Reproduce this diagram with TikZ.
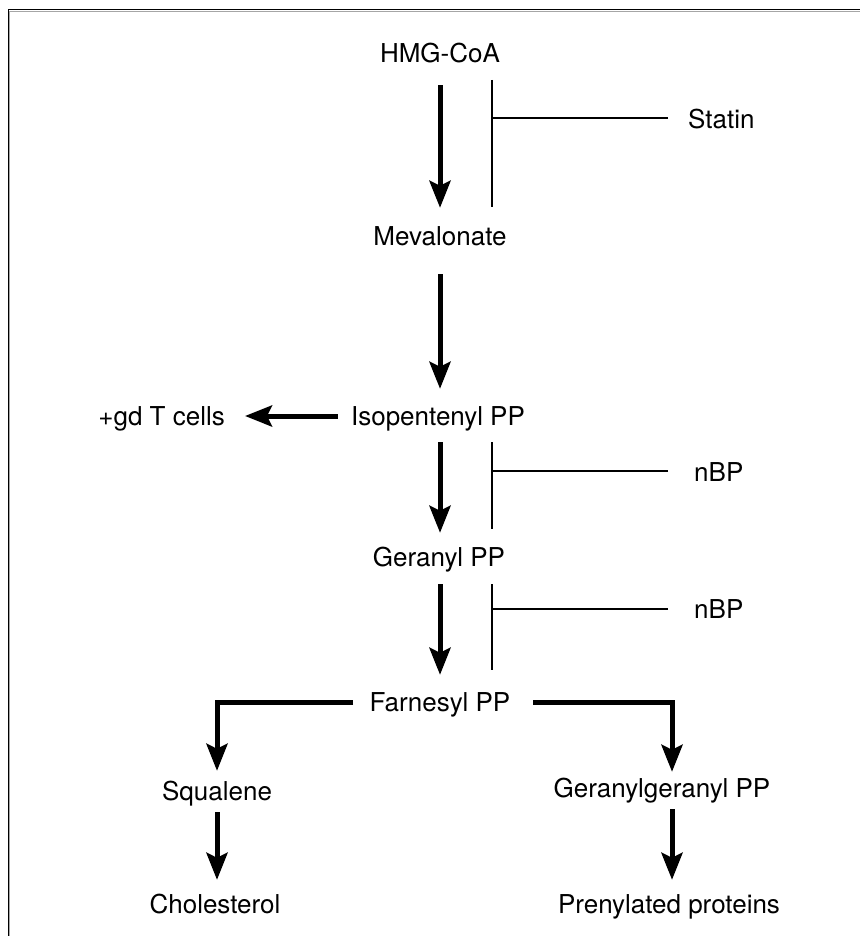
\documentclass[tikz,border=0pt]{standalone}
\usepackage{fontspec}
\setmainfont{TeX Gyre Heros}
\usetikzlibrary{arrows.meta}
\begin{document}
\begin{tikzpicture}[x=1pt,y=-1pt,
  lbl/.style={anchor=base,inner sep=0pt,text height=19pt,text depth=6pt,
    font=\fontsize{26}{31}\selectfont},
  arr/.style={line width=5pt,line join=miter,
    -{Stealth[length=27pt,width=21pt,inset=5pt]}},
  inh/.style={line width=1.3pt},
  frameblk/.style={line width=1.4pt,black},
  framegry/.style={line width=1pt,black!35}]
\useasboundingbox (0,0) rectangle (860,936);
% frame
\draw[framegry] (9.8,936) -- (9.8,11.2) -- (860,11.2);
\draw[frameblk] (8.5,936) -- (8.5,9.8) -- (860,9.8);
% nodes
\node[lbl] (hmg) at (440,63) {HMG-CoA};
\node[lbl] (mev) at (440,245) {Mevalonate};
\node[lbl] (ipp) at (438,425) {Isopentenyl PP};
\node[lbl] (ger) at (439,566) {Geranyl PP};
\node[lbl] (far) at (440,711) {Farnesyl PP};
\node[lbl] (sq) at (217,800) {Squalene};
\node[lbl] (chol) at (215,913) {Cholesterol};
\node[lbl] (gg) at (662,797) {Geranylgeranyl PP};
\node[lbl] (prot) at (669,913) {Prenylated proteins};
\node[lbl,anchor=base east] (gd) at (225,425) {+gd T cells};
\node[lbl,anchor=base west] (statin) at (688,129) {Statin};
\node[lbl,anchor=base west] (nbp1) at (694,481) {nBP};
\node[lbl,anchor=base west] (nbp2) at (694,618) {nBP};
% main arrows
\draw[arr] ([yshift=-16pt]hmg.south) -- ([yshift=18pt]mev.north);
\draw[arr] ([yshift=-23pt]mev.south) -- ([yshift=17pt]mev.south |- ipp.north);
\draw[arr] ([yshift=-11pt]ipp.south -| mev.south) -- ([yshift=14pt]ger.north -| mev.south);
\draw[arr] ([yshift=-12pt]ger.south -| mev.south) -- ([yshift=17pt]far.north);
\draw[arr] ([xshift=-13pt]ipp.west |- 0,416) -- ([xshift=20pt]gd.east |- 0,416);
% branches
\coordinate (fl) at (353,702);
\coordinate (fr) at (533,702);
\draw[arr] (fl) -| ([yshift=10pt]sq.north);
\draw[arr] (fr) -| ([xshift=10pt,yshift=6pt]gg.north);
\draw[arr] ([yshift=-6pt]sq.south) -- ([yshift=14pt]chol.north -| sq.south);
\draw[arr] ([xshift=10pt,yshift=-6pt]gg.south) -- ([xshift=10pt,yshift=14pt]gg.south |- prot.north);
% inhibition bars
\coordinate (b1t) at (492,80);  \coordinate (b1b) at (492,207);
\coordinate (b2t) at (492,442); \coordinate (b2b) at (492,529);
\coordinate (b3t) at (492,584); \coordinate (b3b) at (492,670);
\draw[inh] (b1t) -- (b1b);
\draw[inh] (b2t) -- (b2b);
\draw[inh] (b3t) -- (b3b);
\draw[inh] ([xshift=-20pt]statin.west |- 0,118) -- (b1t |- 0,118);
\draw[inh] ([xshift=-26pt]nbp1.west |- 0,471) -- (b2t |- 0,471);
\draw[inh] ([xshift=-26pt]nbp2.west |- 0,609) -- (b3t |- 0,609);
\end{tikzpicture}
\end{document}
